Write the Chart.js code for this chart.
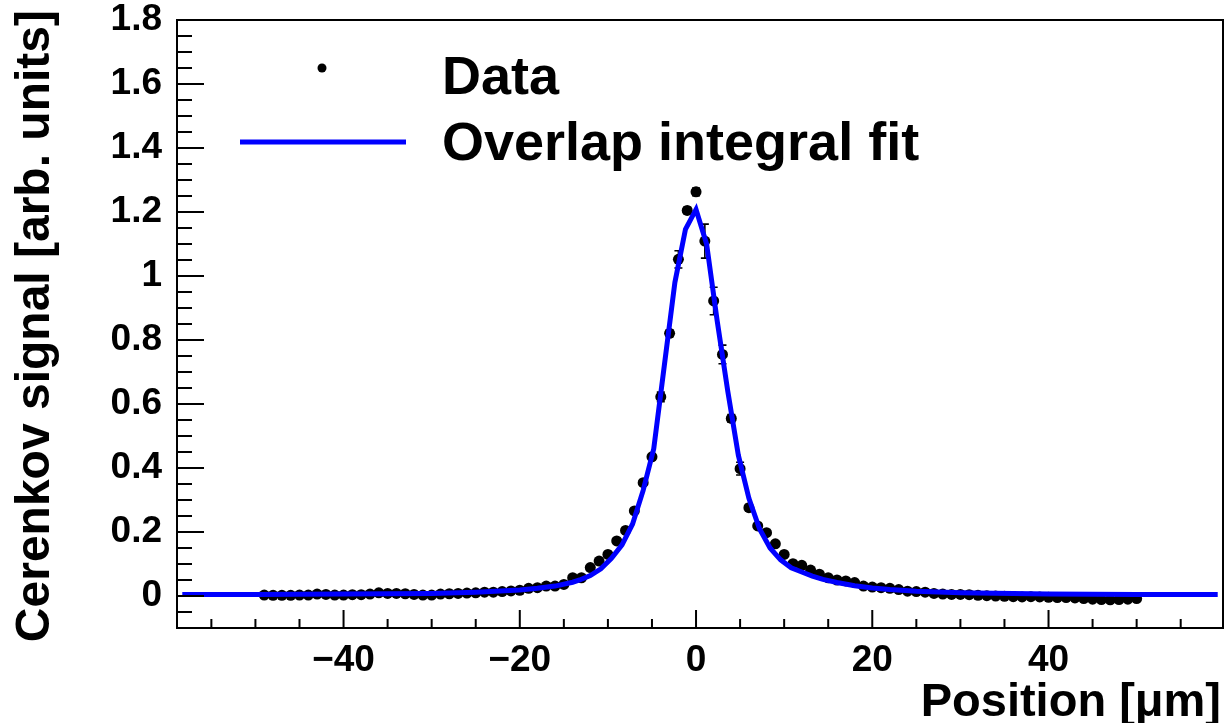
<!DOCTYPE html>
<html>
<head>
<meta charset="utf-8">
<script src="https://cdn.jsdelivr.net/npm/chart.js@4.4.1/dist/chart.umd.min.js"></script>
<style>
  html, body { margin: 0; padding: 0; background: #fff; }
  #cerenkov { display: block; }
</style>
</head>
<body>
<canvas id="cerenkov" width="1224" height="723"></canvas>
<script>
// Measured scan points (position in um, signal in arb. units)
const position = [
  -49, -48, -47, -46, -45, -44, -43, -42, -41, -40,
  -39, -38, -37, -36, -35, -34, -33, -32, -31, -30,
  -29, -28, -27, -26, -25, -24, -23, -22, -21, -20,
  -19, -18, -17, -16, -15, -14, -13, -12, -11, -10,
  -9, -8, -7, -6, -5, -4, -3, -2, -1, 0,
  1, 2, 3, 4, 5, 6, 7, 8, 9, 10,
  11, 12, 13, 14, 15, 16, 17, 18, 19, 20,
  21, 22, 23, 24, 25, 26, 27, 28, 29, 30,
  31, 32, 33, 34, 35, 36, 37, 38, 39, 40,
  41, 42, 43, 44, 45, 46, 47, 48, 49, 50
];
const signal = [
  0.003, 0.002, 0.002, 0.002, 0.003, 0.003, 0.006, 0.005, 0.003, 0.003,
  0.004, 0.004, 0.006, 0.010, 0.008, 0.008, 0.007, 0.005, 0.003, 0.003,
  0.006, 0.007, 0.008, 0.009, 0.010, 0.012, 0.012, 0.014, 0.016, 0.018,
  0.024, 0.026, 0.031, 0.031, 0.036, 0.057, 0.057, 0.089, 0.109, 0.130,
  0.172, 0.205, 0.266, 0.354, 0.435, 0.622, 0.821, 1.052, 1.205, 1.263,
  1.109, 0.922, 0.755, 0.555, 0.398, 0.276, 0.219, 0.198, 0.163, 0.130,
  0.101, 0.096, 0.081, 0.068, 0.057, 0.050, 0.047, 0.042, 0.031, 0.028,
  0.026, 0.024, 0.020, 0.015, 0.014, 0.012, 0.008, 0.006, 0.005, 0.005,
  0.004, 0.002, 0.001, 0.000, -0.001, -0.002, -0.003, -0.002, -0.003, -0.004,
  -0.005, -0.005, -0.006, -0.008, -0.010, -0.011, -0.012, -0.011, -0.010, -0.008
];
const signalErr = [
  0.004, 0.004, 0.004, 0.004, 0.004, 0.004, 0.004, 0.004, 0.004, 0.004,
  0.004, 0.004, 0.004, 0.004, 0.004, 0.004, 0.004, 0.004, 0.004, 0.004,
  0.004, 0.004, 0.004, 0.004, 0.004, 0.004, 0.004, 0.004, 0.004, 0.004,
  0.004, 0.004, 0.004, 0.004, 0.004, 0.004, 0.004, 0.004, 0.004, 0.004,
  0.005, 0.005, 0.006, 0.006, 0.008, 0.015, 0.010, 0.027, 0.010, 0.012,
  0.053, 0.043, 0.029, 0.012, 0.020, 0.010, 0.006, 0.005, 0.005, 0.004,
  0.004, 0.004, 0.004, 0.004, 0.004, 0.004, 0.004, 0.004, 0.004, 0.004,
  0.004, 0.004, 0.004, 0.004, 0.004, 0.004, 0.004, 0.004, 0.004, 0.004,
  0.004, 0.004, 0.004, 0.004, 0.004, 0.004, 0.004, 0.004, 0.004, 0.004,
  0.004, 0.004, 0.004, 0.004, 0.004, 0.004, 0.004, 0.004, 0.004, 0.004
];

// Overlap integral fit
const fitX = [
  -58.3, -50, -40, -30, -25, -20, -18, -16, -14, -13.2, -12, -10.8, -9.6, -8.4,
  -7.2, -6, -4.8, -3.6, -2.4, -1.2, 0, 1.2, 2.4, 3.6, 4.8, 6, 7.2, 8.4, 9.6,
  10.8, 12, 13.2, 14.4, 16, 18, 20, 22, 25, 30, 40, 50, 59.2
];
const fitY = [
  0.005, 0.005, 0.006, 0.008, 0.012, 0.019, 0.024, 0.031, 0.043, 0.050, 0.064, 0.085, 0.118, 0.160,
  0.225, 0.330, 0.460, 0.720, 0.980, 1.146, 1.208, 1.100, 0.860, 0.640, 0.440, 0.305, 0.210, 0.150, 0.113,
  0.088, 0.075, 0.062, 0.052, 0.042, 0.032, 0.025, 0.020, 0.015, 0.010, 0.006, 0.005, 0.005
];

// axis ticks
const xMajor = [-40, -20, 0, 20, 40];
const xMinor = [-55, -50, -45, -35, -30, -25, -15, -10, -5, 5, 10, 15, 25, 30, 35, 45, 50, 55];
const yMajor = [0, 0.2, 0.4, 0.6, 0.8, 1, 1.2, 1.4, 1.6, 1.8];
const yMinor = [-0.05, 0.05, 0.1, 0.15, 0.25, 0.3, 0.35, 0.45, 0.5, 0.55, 0.65, 0.7, 0.75,
  0.85, 0.9, 0.95, 1.05, 1.1, 1.15, 1.25, 1.3, 1.35, 1.45, 1.5, 1.55, 1.65, 1.7, 1.75];

const xTitle = 'Position [\u03bcm]';
const yTitle = 'Cerenkov signal [arb. units]';
const legendLabels = ['Data', 'Overlap integral fit'];

const FONT = '"Liberation Sans", Arial, Helvetica, sans-serif';

function fmt(v) {
  let s = String(Math.round(v * 10) / 10);
  return s.replace('-', '\u2212');
}

//draws error bars, frame, inner ticks, titles and legend like ROOT does
const rootStyle = {
  id: 'rootStyle',
  beforeDatasetsDraw(chart) {
    const ctx = chart.ctx, xs = chart.scales.x, ys = chart.scales.y;
    const a = chart.chartArea;
    ctx.save();
    ctx.beginPath();
    ctx.rect(a.left, a.top, a.right - a.left, a.bottom - a.top);
    ctx.clip();
    ctx.strokeStyle = '#000';
    ctx.lineWidth = 1.6;
    for (let i = 0; i < position.length; i++) {
      const px = xs.getPixelForValue(position[i]);
      const y1 = ys.getPixelForValue(signal[i] + signalErr[i]);
      const y2 = ys.getPixelForValue(signal[i] - signalErr[i]);
      ctx.beginPath();
      ctx.moveTo(px, y1); ctx.lineTo(px, y2);
      ctx.moveTo(px - 4, y1); ctx.lineTo(px + 4, y1);
      ctx.moveTo(px - 4, y2); ctx.lineTo(px + 4, y2);
      ctx.stroke();
    }
    ctx.restore();
  },
  afterDraw(chart) {
    const ctx = chart.ctx, xs = chart.scales.x, ys = chart.scales.y;
    const a = chart.chartArea;
    ctx.save();
    ctx.strokeStyle = '#000';
    ctx.lineWidth = 2;
    ctx.strokeRect(a.left, a.top, a.right - a.left, a.bottom - a.top);

    ctx.beginPath();
    xMajor.forEach(v => { const p = xs.getPixelForValue(v); ctx.moveTo(p, a.bottom); ctx.lineTo(p, a.bottom - 18); });
    xMinor.forEach(v => { const p = xs.getPixelForValue(v); ctx.moveTo(p, a.bottom); ctx.lineTo(p, a.bottom - 9); });
    yMajor.forEach(v => { const p = ys.getPixelForValue(v); ctx.moveTo(a.left, p); ctx.lineTo(a.left + 27, p); });
    yMinor.forEach(v => { const p = ys.getPixelForValue(v); ctx.moveTo(a.left, p); ctx.lineTo(a.left + 15, p); });
    ctx.stroke();

    // axis titles
    ctx.fillStyle = '#000';
    ctx.font = 'bold 47px ' + FONT;
    ctx.textAlign = 'right';
    ctx.textBaseline = 'alphabetic';
    ctx.fillText(xTitle, 1221, 716);
    ctx.font = 'bold 48px ' + FONT;
    ctx.save();
    ctx.translate(49, 10);
    ctx.rotate(-Math.PI / 2);
    ctx.fillText(yTitle, 0, 0);
    ctx.restore();

    // legend
    ctx.beginPath();
    ctx.arc(322, 68, 4.5, 0, Math.PI * 2);
    ctx.fill();
    ctx.strokeStyle = '#0000ff';
    ctx.lineWidth = 5;
    ctx.beginPath();
    ctx.moveTo(240, 142); ctx.lineTo(406, 142);
    ctx.stroke();
    ctx.font = 'bold 54px ' + FONT;
    ctx.textAlign = 'left';
    ctx.fillText(legendLabels[0], 442, 94);
    ctx.fillText(legendLabels[1], 442, 160);
    ctx.restore();
  }
};

const ctx = document.getElementById('cerenkov').getContext('2d');
const chart = new Chart(ctx, {
  type: 'scatter',
  data: {
    datasets: [{
      label: legendLabels[1],
      type: 'line',
      data: fitX.map((x, i) => ({ x: x, y: fitY[i] })),
      borderColor: '#0000ff',
      borderWidth: 5,
      pointRadius: 0,
      tension: 0,
      fill: false,
      order: 0
    }, {
      label: legendLabels[0],
      data: position.map((x, i) => ({ x: x, y: signal[i] })),
      backgroundColor: '#000',
      borderColor: '#000',
      pointRadius: 5.5,
      pointBorderWidth: 0,
      order: 1
    }]
  },
  options: {
    responsive: false,
    animation: false,
    devicePixelRatio: 1,
    layout: { autoPadding: false, padding: { left: 0, right: 1, top: 20, bottom: 0 } },
    plugins: { legend: { display: false }, tooltip: { enabled: false } },
    scales: {
      x: {
        type: 'linear',
        min: -58.9,
        max: 59.8,
        grid: { display: false },
        border: { display: false },
        afterBuildTicks: s => { s.ticks = xMajor.map(v => ({ value: v })); },
        afterFit: s => { s.height = 95; s.paddingLeft = 0; s.paddingRight = 0; },
        ticks: {
          color: '#000',
          padding: 3,
          maxRotation: 0,
          autoSkip: false,
          font: { family: FONT, size: 37, weight: 'bold' },
          callback: v => fmt(v)
        }
      },
      y: {
        type: 'linear',
        min: -0.1,
        max: 1.8,
        grid: { display: false },
        border: { display: false },
        afterBuildTicks: s => { s.ticks = yMajor.map(v => ({ value: v })); },
        afterFit: s => { s.width = 177; s.paddingTop = 0; s.paddingBottom = 0; },
        ticks: {
          color: '#000',
          padding: 7,
          autoSkip: false,
          font: { family: FONT, size: 37, weight: 'bold' },
          callback: v => fmt(v)
        }
      }
    }
  },
  plugins: [rootStyle]
});
</script>
</body>
</html>
